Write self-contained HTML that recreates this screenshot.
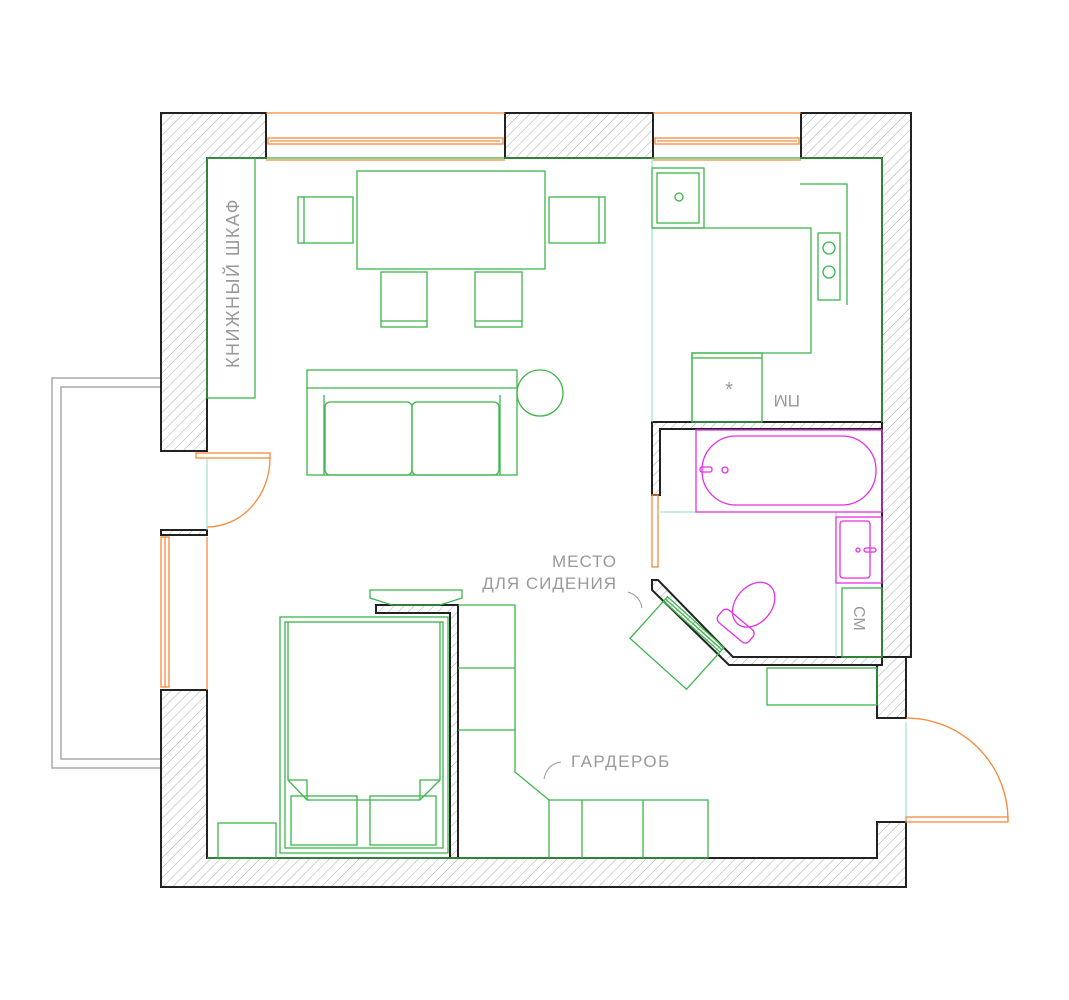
<!DOCTYPE html>
<html><head><meta charset="utf-8"><style>html,body{margin:0;padding:0;background:#fff}svg{display:block}</style></head><body>
<svg width="1069" height="1000" viewBox="0 0 1069 1000" xmlns="http://www.w3.org/2000/svg">
<defs>
<pattern id="h" width="7" height="7" patternUnits="userSpaceOnUse" patternTransform="rotate(45)">
<rect width="7" height="7" fill="#fff"/><line x1="0" y1="0" x2="0" y2="7" stroke="#aaa" stroke-width="1"/>
</pattern>
</defs>
<!-- balcony -->
<path d="M161 378 H52 V768 H161" fill="none" stroke="#aaa" stroke-width="1.5"/>
<path d="M161 387 H61 V759 H161" fill="none" stroke="#aaa" stroke-width="1.5"/>
<!-- walls -->
<g fill="url(#h)" stroke="#222" stroke-width="2">
<path d="M161 113 H266 V158 H207 V451 H161 Z"/>
<rect x="505" y="113" width="148" height="45"/>
<path d="M801 113 H911 V657 H882 V158 H801 Z"/>
<path d="M877 657 H906 V718 H877 Z"/>
<path d="M161 690 H207 V858 H877 V822 H906 V887 H161 Z"/>
<rect x="161" y="530" width="46" height="5"/>
<path d="M655 422 H882 V429 H660 V495 H652 V422 Z"/>
<path d="M652 580 L658 580 L733 657 H882 V665 H729 L652 590 Z"/>
<path d="M376 605 H458 V858 H450 V613 H376 Z"/>
</g>
<!-- windows -->
<g fill="none" stroke="#f58a3c" stroke-width="1.3">
<line x1="266" y1="113" x2="505" y2="113"/><line x1="266" y1="160" x2="505" y2="160"/>
<rect x="268" y="138" width="235" height="6"/><line x1="270" y1="141" x2="500" y2="141"/>
<line x1="653" y1="113" x2="801" y2="113"/><line x1="653" y1="160" x2="801" y2="160"/>
<rect x="655" y="138" width="144" height="6"/><line x1="657" y1="141" x2="797" y2="141"/>
<rect x="161" y="537" width="8" height="150"/><line x1="165" y1="537" x2="165" y2="687"/>
<line x1="207" y1="537" x2="207" y2="690"/>
<rect x="196" y="453" width="74" height="5"/>
<path d="M270 458 A63 69 0 0 1 207 527"/>
<rect x="906" y="817" width="102" height="5"/>
<path d="M906 718 A102 102 0 0 1 1008 820"/>
<rect x="652" y="495" width="6" height="72"/>
</g>
<g stroke="#8fd9c8" stroke-width="1" fill="none">
<line x1="207" y1="458" x2="207" y2="530"/><line x1="906" y1="722" x2="906" y2="817"/>
<line x1="652" y1="158" x2="652" y2="422"/><line x1="660" y1="512" x2="696" y2="512"/>
<line x1="836" y1="512" x2="836" y2="657"/>
</g>
<!-- green furniture -->
<g fill="none" stroke="#3cb54a" stroke-width="1.3">
<path d="M207 158 H882 V422"/>
<rect x="207" y="158" width="48" height="240"/>
<rect x="357" y="171" width="188" height="98"/>
<rect x="298" y="197" width="55" height="46"/><line x1="304" y1="197" x2="304" y2="243"/>
<rect x="549" y="197" width="56" height="46"/><line x1="599" y1="197" x2="599" y2="243"/>
<rect x="381" y="272" width="46" height="55"/><line x1="381" y1="321" x2="427" y2="321"/>
<rect x="475" y="272" width="47" height="55"/><line x1="475" y1="321" x2="522" y2="321"/>
<rect x="307" y="370" width="210" height="105"/><line x1="307" y1="388" x2="517" y2="388"/>
<rect x="325" y="402" width="87" height="73" rx="5"/><rect x="412" y="402" width="87" height="73" rx="5"/>
<line x1="324" y1="395" x2="324" y2="475"/><line x1="500" y1="395" x2="500" y2="475"/>
<circle cx="540" cy="393" r="23"/>
<rect x="652" y="168" width="52" height="60"/><rect x="657" y="173" width="42" height="50"/>
<circle cx="679" cy="197" r="4"/>
<path d="M652 228 H811 V353 H692 V422"/>
<rect x="692" y="353" width="70" height="69"/><line x1="692" y1="358" x2="762" y2="358"/>
<rect x="818" y="233" width="22" height="67"/><circle cx="829" cy="248" r="6"/><circle cx="829" cy="272" r="6"/>
<path d="M800 184 H847 V305"/>
<rect x="280" y="617" width="168" height="236"/><rect x="285" y="622" width="158" height="226"/>
<path d="M288 622 V780 L307 800 H420 L440 780 V622"/>
<path d="M288 780 H307 V800 M440 780 H420 V800"/>
<rect x="291" y="796" width="66" height="49"/><rect x="370" y="796" width="66" height="49"/>
<path d="M370 590 H462 V598 L440 605 H392 L370 598 Z"/>
<rect x="218" y="823" width="58" height="35"/>
<path d="M458 605 H515 V772 L549 800 H708 V858"/>
<line x1="458" y1="668" x2="515" y2="668"/><line x1="458" y1="730" x2="515" y2="730"/>
<line x1="549" y1="800" x2="549" y2="858"/><line x1="582" y1="800" x2="582" y2="858"/><line x1="643" y1="800" x2="643" y2="858"/>
<line x1="207" y1="858" x2="708" y2="858"/>
<rect x="767" y="668" width="110" height="37"/>
<rect x="842" y="588" width="40" height="69"/>
<g transform="translate(677 643) rotate(42)"><rect x="-38" y="-28" width="76" height="56"/><line x1="-38" y1="-22" x2="38" y2="-22"/><line x1="-38" y1="-25" x2="38" y2="-25"/></g>
</g>
<!-- magenta -->
<g fill="none" stroke="#e62ee6" stroke-width="1.3">
<rect x="696" y="430" width="186" height="82"/>
<rect x="702" y="436" width="174" height="69" rx="34"/>
<circle cx="725" cy="470" r="3"/><rect x="700" y="467" width="12" height="5" rx="2"/>
<rect x="836" y="517" width="46" height="66"/><rect x="840" y="521" width="30" height="57" rx="3"/>
<circle cx="858" cy="550" r="2"/><rect x="864" y="548" width="12" height="4" rx="2"/>
<g transform="translate(737 609) rotate(40)"><ellipse cx="10" cy="-14" rx="18" ry="25"/><rect x="-10" y="6" width="40" height="16" rx="5"/></g>
</g>
<!-- text -->
<g font-family="Liberation Sans, sans-serif" fill="#999">
<text x="0" y="0" font-size="18" letter-spacing="1.5" transform="translate(239 368) rotate(-90)">КНИЖНЫЙ ШКАФ</text>
<text x="729" y="396" font-size="20" text-anchor="middle">*</text>
<text x="0" y="0" font-size="17" transform="translate(800 395) scale(-1 -1)">ПМ</text>
<text x="0" y="0" font-size="16" transform="translate(854 606) rotate(90)">СМ</text>
<text x="617" y="567" font-size="17" text-anchor="end" letter-spacing="1">МЕСТО</text>
<text x="617" y="589" font-size="17" text-anchor="end" letter-spacing="1">ДЛЯ СИДЕНИЯ</text>
<text x="571" y="767" font-size="17" letter-spacing="1.5">ГАРДЕРОБ</text>
</g>
<g fill="none" stroke="#999" stroke-width="1">
<path d="M628 592 Q640 596 642 608"/>
<path d="M561 762 Q547 764 544 779"/>
</g>
</svg>
</body></html>
